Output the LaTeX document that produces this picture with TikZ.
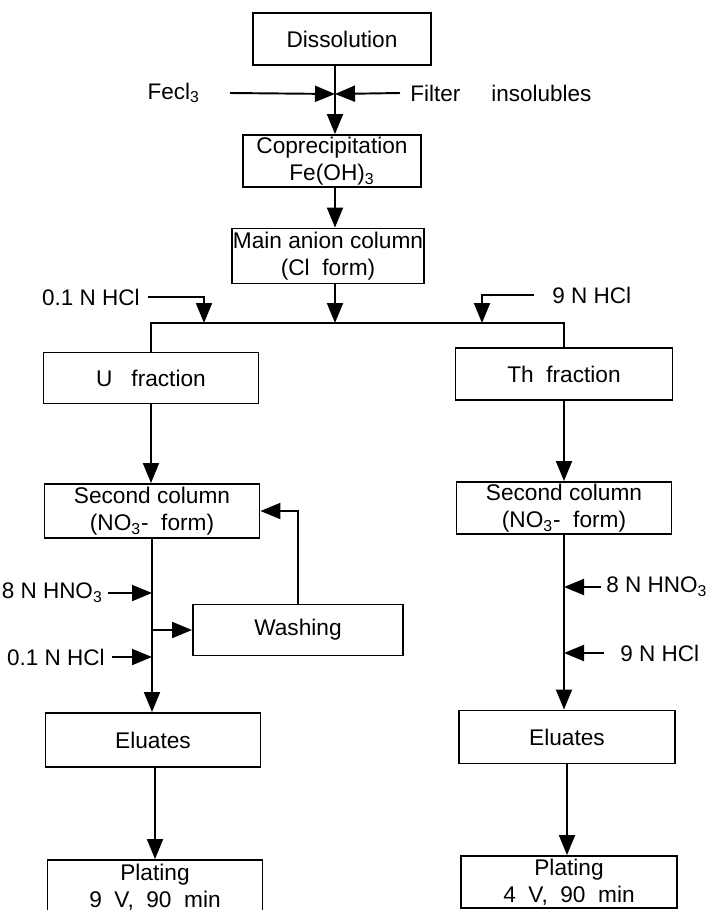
\documentclass[tikz,border=0pt]{standalone}
\usepackage{fontspec}
\setmainfont{Liberation Sans}
\usetikzlibrary{arrows.meta}

\begin{document}
\begin{tikzpicture}[
    x=0.02cm, y=-0.02cm,
    box/.style={draw, line width=1.1pt, inner sep=0pt, align=center, font=\fontsize{12.9}{15.4}\selectfont},
    lbl/.style={inner sep=0pt, font=\fontsize{12.8}{15}\selectfont},
    feed/.style={line width=1.1pt, -{Triangle[length=0.4cm,width=0.32cm]}},
    link/.style={line width=1.1pt},
]
\useasboundingbox (0,0) rectangle (706,910);
\clip (0,0) rectangle (706,910);

% Main chain
\node[box, minimum width=3.56cm, minimum height=1.04cm] (diss) at (342,39) {Dissolution};
\node[box, minimum width=3.56cm, minimum height=1.04cm] (copr) at (332,161) {Coprecipitation\\Fe(OH)\textsubscript{3}};
\node[box, minimum width=3.84cm, minimum height=1.1cm] (main) at (328,256) {Main anion column\\(Cl\ \ form)};
\coordinate (jn) at (335,94);
\coordinate (split) at (335,323);

\node[lbl, anchor=east] (fecl) at (200,93) {Fecl\textsubscript{3}};
\node[lbl, anchor=west] (filt) at (410,93) {Filter\hspace{0.62cm}insolubles};
\draw[feed] (fecl.east) ++(30,0) -- (jn);
\draw[feed] (filt.west) ++(-10,0) -- (jn);
\draw[feed] (jn |- diss.south) -- (jn |- copr.north);
\draw[feed] (jn |- copr.south) -- (jn |- main.north);
\draw[feed] (split |- main.south) -- (split);

% Split into U and Th
\node[box, minimum width=4.3cm, minimum height=1.02cm] (ufr) at (151,378) {U\ \ \ fraction};
\node[box, minimum width=4.34cm, minimum height=1.04cm] (thfr) at (564,374) {Th\ \ fraction};
\draw[link] (ufr.north) |- (split) -| (thfr.north);

\coordinate (ina) at (204,323);
\coordinate (inb) at (482,323);
\node[lbl, anchor=east] (hcla) at (140,297) {0.1 N HCl};
\node[lbl, anchor=west] (hclb) at (552,295) {9 N HCl};
\draw[feed] (hcla.east) ++(8,0) -| (ina);
\draw[feed] (hclb.west) ++(-18,0) -| (inb);

% U branch
\node[box, minimum width=4.3cm, minimum height=1.08cm] (secu) at (152,511) {Second column\\(NO\textsubscript{3}-\ \ form)};
\node[box, minimum width=4.2cm, minimum height=1.02cm] (wash) at (298,630) {Washing};
\node[box, minimum width=4.3cm, minimum height=1.08cm] (eluu) at (153,740) {Eluates};
\node[box, minimum width=4.3cm, minimum height=1.08cm] (platu) at (155,887) {Plating\\9\ \ V,\ \ 90\ \ min};
\draw[feed] (ufr.south) -- (ufr.south |- secu.north);
\draw[feed] (secu.south) -- (secu.south |- eluu.north);
\draw[feed] (secu.south |- wash.west) -- (wash.west);
\draw[feed] (wash.north) |- (secu.east);
\draw[feed] (eluu.south) ++(2,0) -- (platu.north);

\node[lbl, anchor=east] (hnoa) at (103,593) {8 N HNO\textsubscript{3}};
\node[lbl, anchor=east] (hclc) at (105,657) {0.1 N HCl};
\foreach \s/\g in {hnoa/5, hclc/7} {
  \draw[feed] (\s.east) ++(\g,0) -- (secu.south |- \s.east);
}

% Th branch
\node[box, minimum width=4.3cm, minimum height=1.04cm] (secth) at (564,508) {Second column\\(NO\textsubscript{3}-\ \ form)};
\node[box, minimum width=4.32cm, minimum height=1.06cm] (eluth) at (567,737) {Eluates};
\node[box, minimum width=4.32cm, minimum height=1.04cm] (platth) at (569,882) {Plating\\4\ \ V,\ \ 90\ \ min};
\draw[feed] (thfr.south) -- (thfr.south |- secth.north);
\draw[feed] (secth.south) -- (secth.south |- eluth.north);
\draw[feed] (eluth.south) -- (eluth.south |- platth.north);

\node[lbl, anchor=west] (hnob) at (606,587) {8 N HNO\textsubscript{3}};
\node[lbl, anchor=west] (hcld) at (620,653) {9 N HCl};
\foreach \s/\g in {hnob/5, hcld/16} {
  \draw[feed] (\s.west) ++(-\g,0) -- (secth.south |- \s.west);
}
\end{tikzpicture}
\end{document}
